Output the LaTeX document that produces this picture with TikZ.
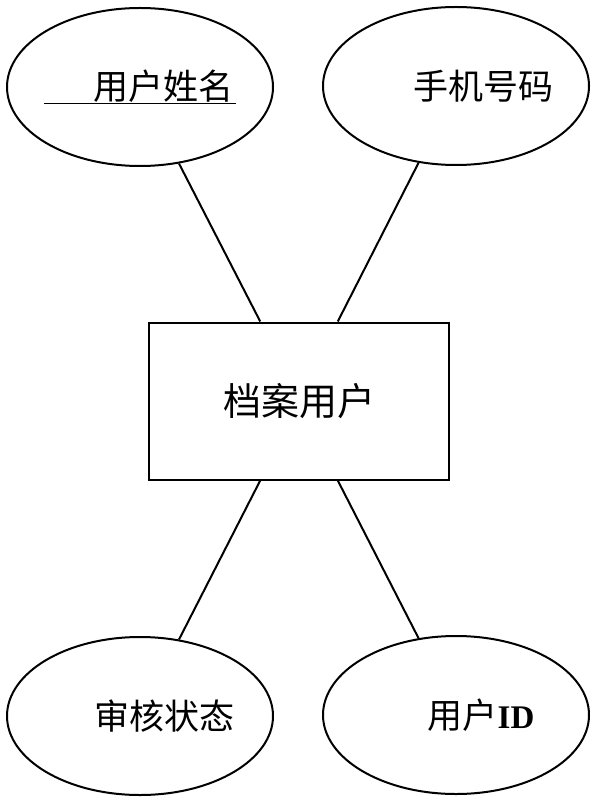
\documentclass[tikz,border=0pt]{standalone}
\usepackage{fontspec}
\newfontfamily\cjk{Noto Sans CJK SC}
\newfontfamily\idfont{Liberation Serif}
\usetikzlibrary{shapes.geometric}
\tikzset{
  attr/.style={draw, ellipse, line width=2pt, inner sep=0pt,
    minimum width=266pt, minimum height=158pt},
  entity/.style={draw, rectangle, line width=2pt, inner sep=0pt,
    minimum width=300pt, minimum height=157pt,
    font=\cjk\fontsize{38}{44}\selectfont},
  word/.style={inner sep=0pt, font=\cjk\fontsize{35}{40}\selectfont},
  link/.style={line width=2pt}
}
\begin{document}
\begin{tikzpicture}[x=1pt,y=-1pt]
    \useasboundingbox (0,0) rectangle (596,802);
    \node [entity] (user) at (299,401) {档案用户};
    \node [attr] (name) at (140,87) {};
    \node [attr] (phone) at (456,86) {};
    \node [attr] (state) at (140,716) {};
    \node [attr] (uid) at (456,715) {};
    \node [word] (name-t) at (name) {\underline{\hspace*{49pt}用户姓名\hspace*{3pt}}};
    \node [word, xshift=27pt] (phone-t) at (phone) {手机号码};
    \node [word, xshift=24pt] (state-t) at (state) {审核状态};
    \node [word, xshift=25pt] (uid-t) at (uid) {用户{\idfont\bfseries\fontsize{33}{40}\selectfont ID}};
    \draw [link] (name.-63) -- (user.116);
    \draw [link] (phone.-116) -- (user.64);
    \draw [link] (state.63) -- (user.-116);
    \draw [link] (uid.116) -- (user.-64);
  \end{tikzpicture}
\end{document}
